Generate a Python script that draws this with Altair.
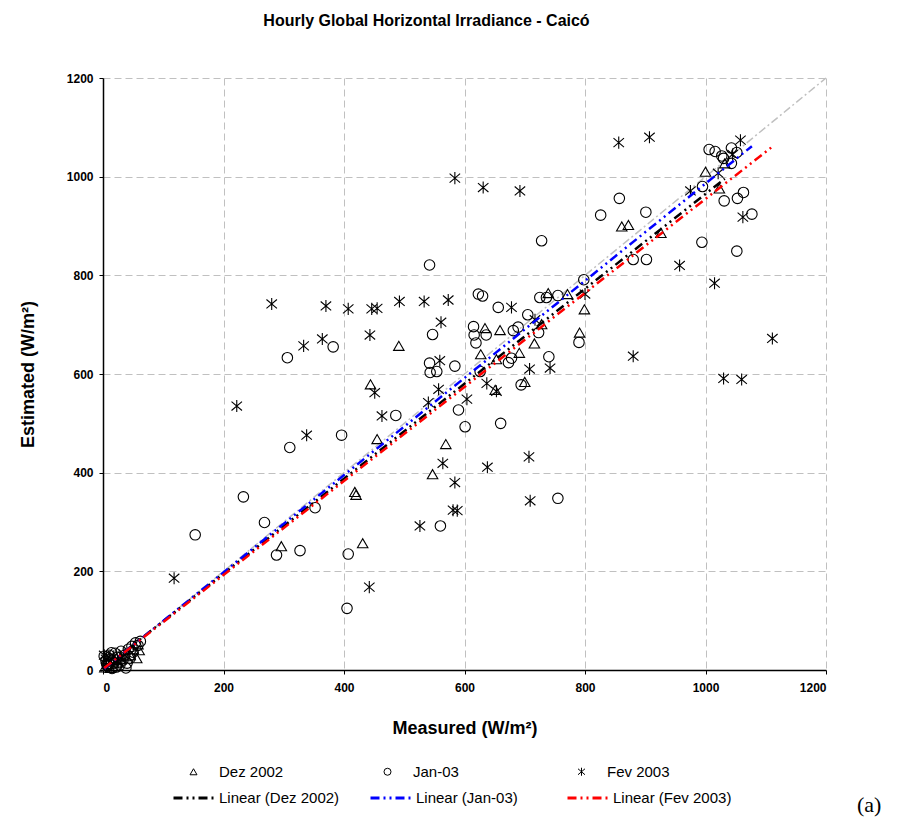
import altair as alt
import pandas as pd

# ---- data -------------------------------------------------------------
SERIES = ["Dez 2002", "Jan-03", "Fev 2003"]
TRENDS = ["Linear (Dez 2002)", "Linear (Jan-03)", "Linear (Fev 2003)"]
TREND_COLORS = ["#000000", "#0000ff", "#ff0000"]

dez_measured = [3, 8, 12, 18, 20, 25, 30, 38, 45, 50, 56, 60, 58,
                296, 418, 420, 431, 444, 455, 491, 547, 569, 627, 634, 651,
                653, 659, 691, 700, 716, 728, 739, 771, 791, 799, 861, 872,
                926, 1000, 1023, 1032]
dez_estimated = [5, 12, 4, 20, 8, 15, 22, 28, 30, 42, 24, 40, 52,
                 251, 361, 355, 257, 579, 468, 657, 397, 458, 640, 693, 568,
                 630, 689, 643, 584, 662, 701, 764, 762, 684, 731, 899, 902,
                 886, 1010, 976, 1027]

jan_measured = [2, 5, 8, 10, 12, 15, 18, 20, 24, 28, 30, 33, 36, 40, 42, 45,
                48, 50, 54, 58, 62, 14, 22, 38, 6,
                153, 233, 268, 288, 306, 310, 327, 352, 382, 396, 405, 407,
                486, 542, 542, 543, 554, 547, 560, 584, 590, 601, 615, 616,
                619, 623, 630, 626, 636, 656, 660, 673, 678, 681, 689, 694,
                705, 723, 725, 736, 755, 740, 728, 755, 790, 798, 826, 857,
                880, 902, 901, 994, 995, 1006, 1016, 1027, 1030, 1043, 1052,
                1043, 1031, 1053, 1063, 1077, 1052]
jan_estimated = [28, 18, 8, 30, 22, 3, 14, 34, 26, 10, 38, 20, 30, 14, 42, 24,
                 48, 36, 55, 50, 58, 35, 6, 4, 12,
                 274, 351, 299, 233, 633, 451, 242, 329, 655, 476, 125, 235,
                 516, 821, 622, 603, 605, 680, 292, 616, 527, 493, 696, 679,
                 663, 762, 758, 605, 679, 735, 500, 623, 632, 688, 695, 578,
                 720, 684, 755, 755, 759, 635, 870, 348, 664, 791, 922, 956,
                 832, 832, 928, 867, 980, 1055, 1051, 1042, 1037, 1058, 1049,
                 1027, 951, 956, 968, 924, 849]

fev_measured = [2, 5, 10, 14, 18, 24, 30, 6, 35,
                118, 222, 280, 333, 338, 364, 370, 407, 442, 443, 446, 455,
                451, 463, 492, 526, 533, 540, 557, 559, 561, 564, 573, 581,
                584, 584, 588, 604, 631, 637, 638, 653, 678, 692, 707, 708,
                709, 717, 742, 800, 856, 880, 907, 957, 975, 1015, 1021, 1030,
                1045, 1058, 1060, 1062, 1111]
fev_estimated = [30, 22, 26, 12, 28, 18, 24, 6, 32,
                 186, 535, 742, 657, 476, 671, 738, 732, 168, 679, 732, 733,
                 562, 515, 747, 292, 747, 542, 569, 627, 705, 419, 750, 324,
                 380, 997, 323, 549, 978, 581, 411, 565, 735, 971, 432, 610,
                 343, 710, 612, 762, 1069, 636, 1080, 820, 971, 784, 1007, 591,
                 1045, 1074, 589, 918, 672]

# linear trend coefficients (estimated = slope * measured + intercept)
trend_slopes = [0.962, 0.985, 0.953]
trend_intercepts = [3, 1, 2]

identity_range = [0, 1200]

# ---- tables -----------------------------------------------------------
columns = [(dez_measured, dez_estimated), (jan_measured, jan_estimated),
           (fev_measured, fev_estimated)]

points = pd.concat(
    [pd.DataFrame({"measured": m, "estimated": e, "series": s})
     for (m, e), s in zip(columns, SERIES)],
    ignore_index=True,
)

trend_rows = []
for (m, _), name, a, b in zip(columns, TRENDS, trend_slopes, trend_intercepts):
    for xv in (min(m), max(m)):
        trend_rows.append({"measured": xv, "estimated": a * xv + b, "trend": name})
trends = pd.DataFrame(trend_rows)

identity = pd.DataFrame({"measured": identity_range, "estimated": identity_range})

# ---- encodings --------------------------------------------------------
FONT = "Liberation Sans"
TICKS = list(range(0, 1201, 200))

x_enc = alt.X(
    "measured:Q",
    scale=alt.Scale(domain=[0, 1200], nice=False),
    axis=alt.Axis(values=TICKS, format="d", title="Measured (W/m²)",
                  titleY=58, titleBaseline="middle", labelPadding=8),
)
y_enc = alt.Y(
    "estimated:Q",
    scale=alt.Scale(domain=[0, 1200], nice=False),
    axis=alt.Axis(values=TICKS, format="d", title="Estimated (W/m²)",
                  titleX=-75, titleY=296, titleAngle=270, titleAlign="center",
                  titleBaseline="middle", labelPadding=6),
)

# six-armed asterisk: vertical bar plus an X
STAR = "M0,-1.15L0,1.15M-1,-0.85L1,0.85M-1,0.85L1,-0.85"

identity_line = alt.Chart(identity).mark_line(
    color="#c0c0c0", strokeWidth=1.5, strokeDash=[8, 3, 2, 3]
).encode(x=x_enc, y=y_enc)

scatter = alt.Chart(points).mark_point(
    filled=False, color="black", strokeWidth=1.1, opacity=1, size=110
).encode(
    x=x_enc,
    y=y_enc,
    shape=alt.Shape(
        "series:N",
        scale=alt.Scale(domain=SERIES, range=["triangle-up", "circle", STAR]),
        legend=alt.Legend(
            title=None, orient="none", legendX=83, legendY=686,
            direction="horizontal", columns=3, gridAlign="all",
            columnPadding=96, rowPadding=0, padding=0,
            labelFont=FONT, labelFontSize=15, labelColor="black",
            labelOffset=18, symbolSize=49, symbolStrokeColor="black",
            symbolFillColor="transparent", symbolStrokeWidth=1,
        ),
    ),
)

trend_lines = alt.Chart(trends).mark_line(
    strokeWidth=2.5, strokeDash=[9, 4, 2, 4, 2, 4]
).encode(
    x=x_enc,
    y=y_enc,
    color=alt.Color(
        "trend:N",
        scale=alt.Scale(domain=TRENDS, range=TREND_COLORS),
        legend=alt.Legend(
            title=None, orient="none", legendX=69, legendY=698,
            direction="horizontal", columns=3, gridAlign="all",
            columnPadding=24, rowPadding=0, padding=0,
            labelFont=FONT, labelFontSize=15, labelColor="black",
            labelOffset=3, symbolType="stroke", symbolSize=1681,
            symbolStrokeWidth=3, symbolDash=[9, 4, 2, 4, 2, 4],
        ),
    ),
    detail="trend:N",
)

panel_tag = alt.Chart(pd.DataFrame({"tag": ["(a)"]})).mark_text(
    font="Liberation Serif", fontSize=22, align="left", baseline="middle",
    color="black",
).encode(x=alt.value(754), y=alt.value(727), text="tag:N")

chart = alt.layer(identity_line, scatter, trend_lines, panel_tag).properties(
    width=723,
    height=592,
    autosize=alt.AutoSizeParams(type="none"),
    padding={"left": 103, "top": 78, "right": 79, "bottom": 155},
    title=alt.TitleParams(
        "Hourly Global Horizontal Irradiance - Caicó",
        font=FONT, fontSize=16, fontWeight="bold", color="black",
        anchor="middle", frame="group", dx=-38, offset=43,
    ),
).resolve_scale(
    shape="independent", color="independent"
).configure_view(
    stroke=None
).configure_axis(
    grid=True, gridColor="#c0c0c0", gridDash=[7, 4], gridWidth=1,
    domainColor="black", domainWidth=1.5, tickColor="black", tickSize=4,
    labelFont=FONT, labelFontSize=12, labelFontWeight="bold",
    labelColor="black", titleFont=FONT, titleFontSize=18,
    titleFontWeight="bold", titleColor="black",
)

chart.save("out.html", embed_options={"renderer": "svg", "actions": False})
